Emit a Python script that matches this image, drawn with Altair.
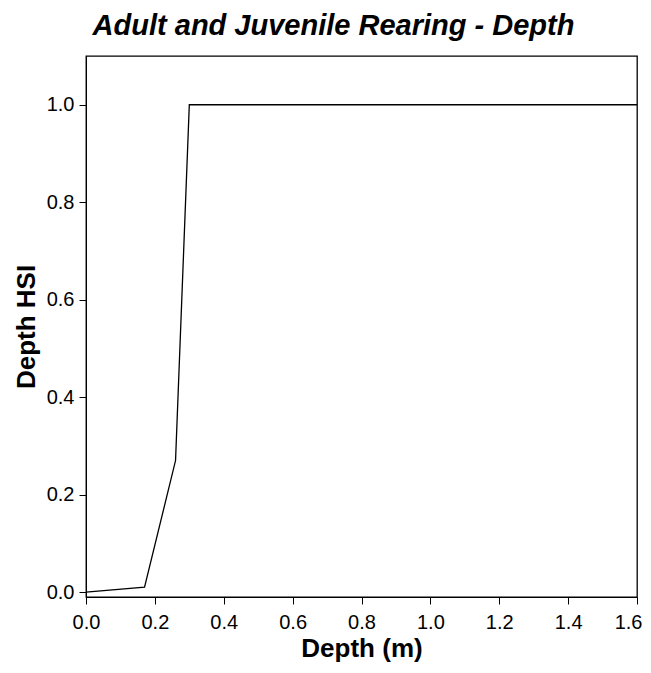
import altair as alt
import pandas as pd

depth = [0.0, 0.17, 0.26, 0.30, 1.6]
hsi = [0.0, 0.01, 0.27, 1.0, 1.0]

df = pd.DataFrame({"depth": depth, "hsi": hsi})

font = "Liberation Sans"

chart = alt.Chart(df).mark_line(color="black", strokeWidth=1.3, clip=True).encode(
    x=alt.X("depth:Q", title="Depth (m)",
            scale=alt.Scale(domain=[0, 1.6], nice=False, zero=False),
            axis=alt.Axis(values=[0, 0.2, 0.4, 0.6, 0.8, 1.0, 1.2, 1.4, 1.6], format=".1f",
                          labelFlush=False, labelOverlap=False, labelPadding=8,
                          labelAlign={"condition": {"test": "datum.value >= 1.59", "value": "right"},
                                      "value": "center"},
                          labelOffset={"condition": {"test": "datum.value >= 1.59", "value": 5},
                                       "value": 0},
                          titlePadding=3)),
    y=alt.Y("hsi:Q", title="Depth HSI",
            scale=alt.Scale(domain=[-0.01, 1.1], nice=False, zero=False),
            axis=alt.Axis(values=[0, 0.2, 0.4, 0.6, 0.8, 1.0], format=".1f",
                          labelFlush=False, labelOverlap=False, labelPadding=5,
                          titlePadding=7)),
    order=alt.Order("depth:Q"),
).properties(
    width=551,
    height=541,
    autosize=alt.AutoSizeParams(type="none"),
    padding={"left": 78, "top": 48, "right": 6, "bottom": 68},
    title=alt.TitleParams("Adult and Juvenile Rearing - Depth", font=font, fontSize=29,
                          fontWeight="bold", fontStyle="italic", anchor="middle",
                          dx=-28, offset=15, color="black"),
).configure_view(
    stroke="black", strokeWidth=1.3
).configure_axis(
    grid=False,
    domainColor="black",
    tickColor="black",
    labelColor="black",
    titleColor="black",
    labelFont=font,
    titleFont=font,
    labelFontSize=20,
    titleFontSize=26,
    titleFontWeight="bold",
    tickSize=7,
)

chart.save("out.html", embed_options={"renderer": "svg", "actions": False})
